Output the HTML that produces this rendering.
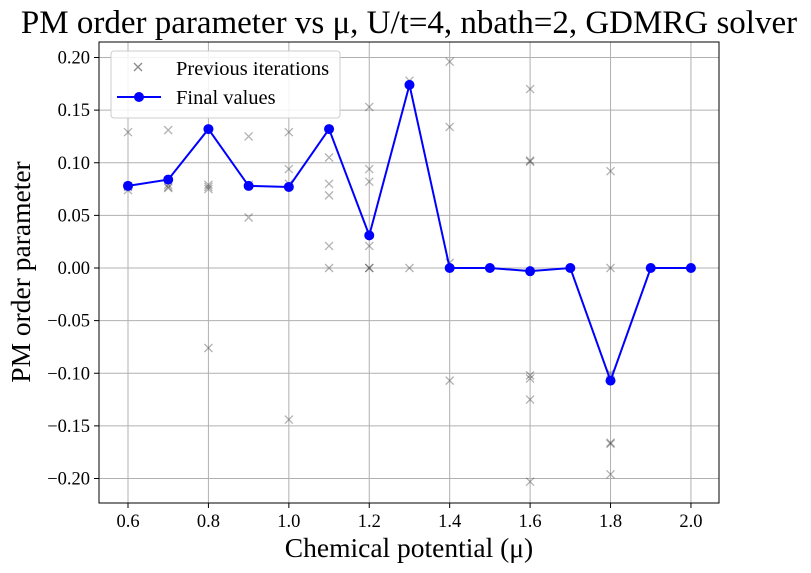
<!DOCTYPE html>
<html><head><meta charset="utf-8"><style>
body{margin:0;background:#fff;}
svg{display:block;font-family:"Liberation Serif","DejaVu Serif",serif;}
</style></head><body>
<svg id="c" width="811" height="573">
<rect width="811" height="573" fill="#fff"/>
<text x="409" y="33" font-size="33" text-anchor="middle">PM order parameter vs μ, U/t=4, nbath=2, GDMRG solver</text>
<g id="grid"></g><g id="prev"></g><g id="final"></g><g id="axes"></g>
<text x="409" y="557" font-size="27.5" text-anchor="middle">Chemical potential (μ)</text>
<text transform="translate(30,272) rotate(-90)" font-size="27.5" text-anchor="middle">PM order parameter</text>
<g>
<rect x="111" y="51" width="229" height="67" rx="3" fill="#fff" fill-opacity="0.85" stroke="#ccc"/>
<path d="M134,63 l8,8 M142,63 l-8,8" stroke="#888" stroke-width="1.3"/>
<text x="176" y="75" font-size="20.5">Previous iterations</text>
<line x1="117" y1="97" x2="161" y2="97" stroke="#0000ff" stroke-width="2"/>
<circle cx="139" cy="97" r="5" fill="#0000ff"/>
<text x="176" y="104" font-size="20.5">Final values</text>
</g>
</svg>
<script>
const xTicks=[0.6,0.8,1.0,1.2,1.4,1.6,1.8,2.0];
const xTickLabels=["0.6","0.8","1.0","1.2","1.4","1.6","1.8","2.0"];
const yTicks=[0.20,0.15,0.10,0.05,0.00,-0.05,-0.10,-0.15,-0.20];
const yTickLabels=["0.20","0.15","0.10","0.05","0.00","\u22120.05","\u22120.10","\u22120.15","\u22120.20"];
const finalMu=[0.6,0.7,0.8,0.9,1.0,1.1,1.2,1.3,1.4,1.5,1.6,1.7,1.8,1.9,2.0];
const finalVals=[0.078,0.084,0.132,0.078,0.077,0.132,0.031,0.174,0,0,-0.003,0,-0.107,0,0];
const prevMu=[0.6,0.6,0.6,0.6,0.7,0.7,0.7,0.7,0.8,0.8,0.8,0.8,0.9,0.9,0.9,1.0,1.0,1.0,1.0,1.1,1.1,1.1,1.1,1.1,1.2,1.2,1.2,1.2,1.2,1.2,1.3,1.3,1.4,1.4,1.4,1.4,1.6,1.6,1.6,1.6,1.6,1.6,1.6,1.8,1.8,1.8,1.8,1.8,1.8];
const prevVals=[0.129,0.078,0.074,0.077,0.131,0.079,0.077,0.076,0.079,0.075,0.077,-0.076,0.125,0.048,0.079,0.129,0.094,0.080,-0.144,0.105,0.080,0.069,0.021,0.0,0.153,0.094,0.082,0.021,0.0,0.0,0.178,0.0,0.196,0.134,0.005,-0.107,0.170,0.102,0.101,-0.102,-0.105,-0.125,-0.203,0.092,0.0,-0.100,-0.166,-0.167,-0.196];
const L=99,R=719,T=42,B=503;
const xs=m=>128+(m-0.6)*402.1;
const ys=v=>268-v*1052.5;
const NS="http://www.w3.org/2000/svg";
function mk(p,tag,a){const e=document.createElementNS(NS,tag);for(const k in a)e.setAttribute(k,a[k]);p.appendChild(e);return e;}
const grid=document.getElementById('grid'),axes=document.getElementById('axes'),prev=document.getElementById('prev'),fin=document.getElementById('final');
xTicks.forEach((t,i)=>{const x=xs(t);
 const g=mk(grid,'line',{x1:x,x2:x,y1:T,y2:B,stroke:'#b0b0b0','stroke-width':1});
 
 
 mk(axes,'line',{x1:x,x2:x,y1:B,y2:B+5,stroke:'#000'});
 const tx=mk(axes,'text',{x:x,y:B+24,'font-size':18.5,'text-anchor':'middle'});tx.textContent=xTickLabels[i];
 
 });
yTicks.forEach((t,i)=>{const y=ys(t);
 const g=mk(grid,'line',{x1:L,x2:R,y1:y,y2:y,stroke:'#b0b0b0','stroke-width':1});
 
 
 mk(axes,'line',{x1:L-5,x2:L,y1:y,y2:y,stroke:'#000'});
 const tx=mk(axes,'text',{x:L-9,y:y+6,'font-size':18.5,'text-anchor':'end'});tx.textContent=yTickLabels[i];
 
 });
const fr=mk(axes,'rect',{x:L,y:T,width:R-L,height:B-T,fill:'none',stroke:'#000','stroke-width':1});


prevVals.forEach((v,i)=>{const x=xs(prevMu[i]),y=ys(v);
 const p=mk(prev,'path',{d:`M${x-4},${y-4}L${x+4},${y+4}M${x+4},${y-4}L${x-4},${y+4}`,stroke:'#000','stroke-opacity':0.3,'stroke-width':1.3});
 
 });
const ln=mk(fin,'polyline',{points:finalVals.map((v,i)=>xs(finalMu[i])+','+ys(v)).join(' '),fill:'none',stroke:'#0000ff','stroke-width':2});


finalVals.forEach((v,i)=>{const c=mk(fin,'circle',{cx:xs(finalMu[i]),cy:ys(v),r:5,fill:'#0000ff'});
 
 });
</script>
</body></html>
